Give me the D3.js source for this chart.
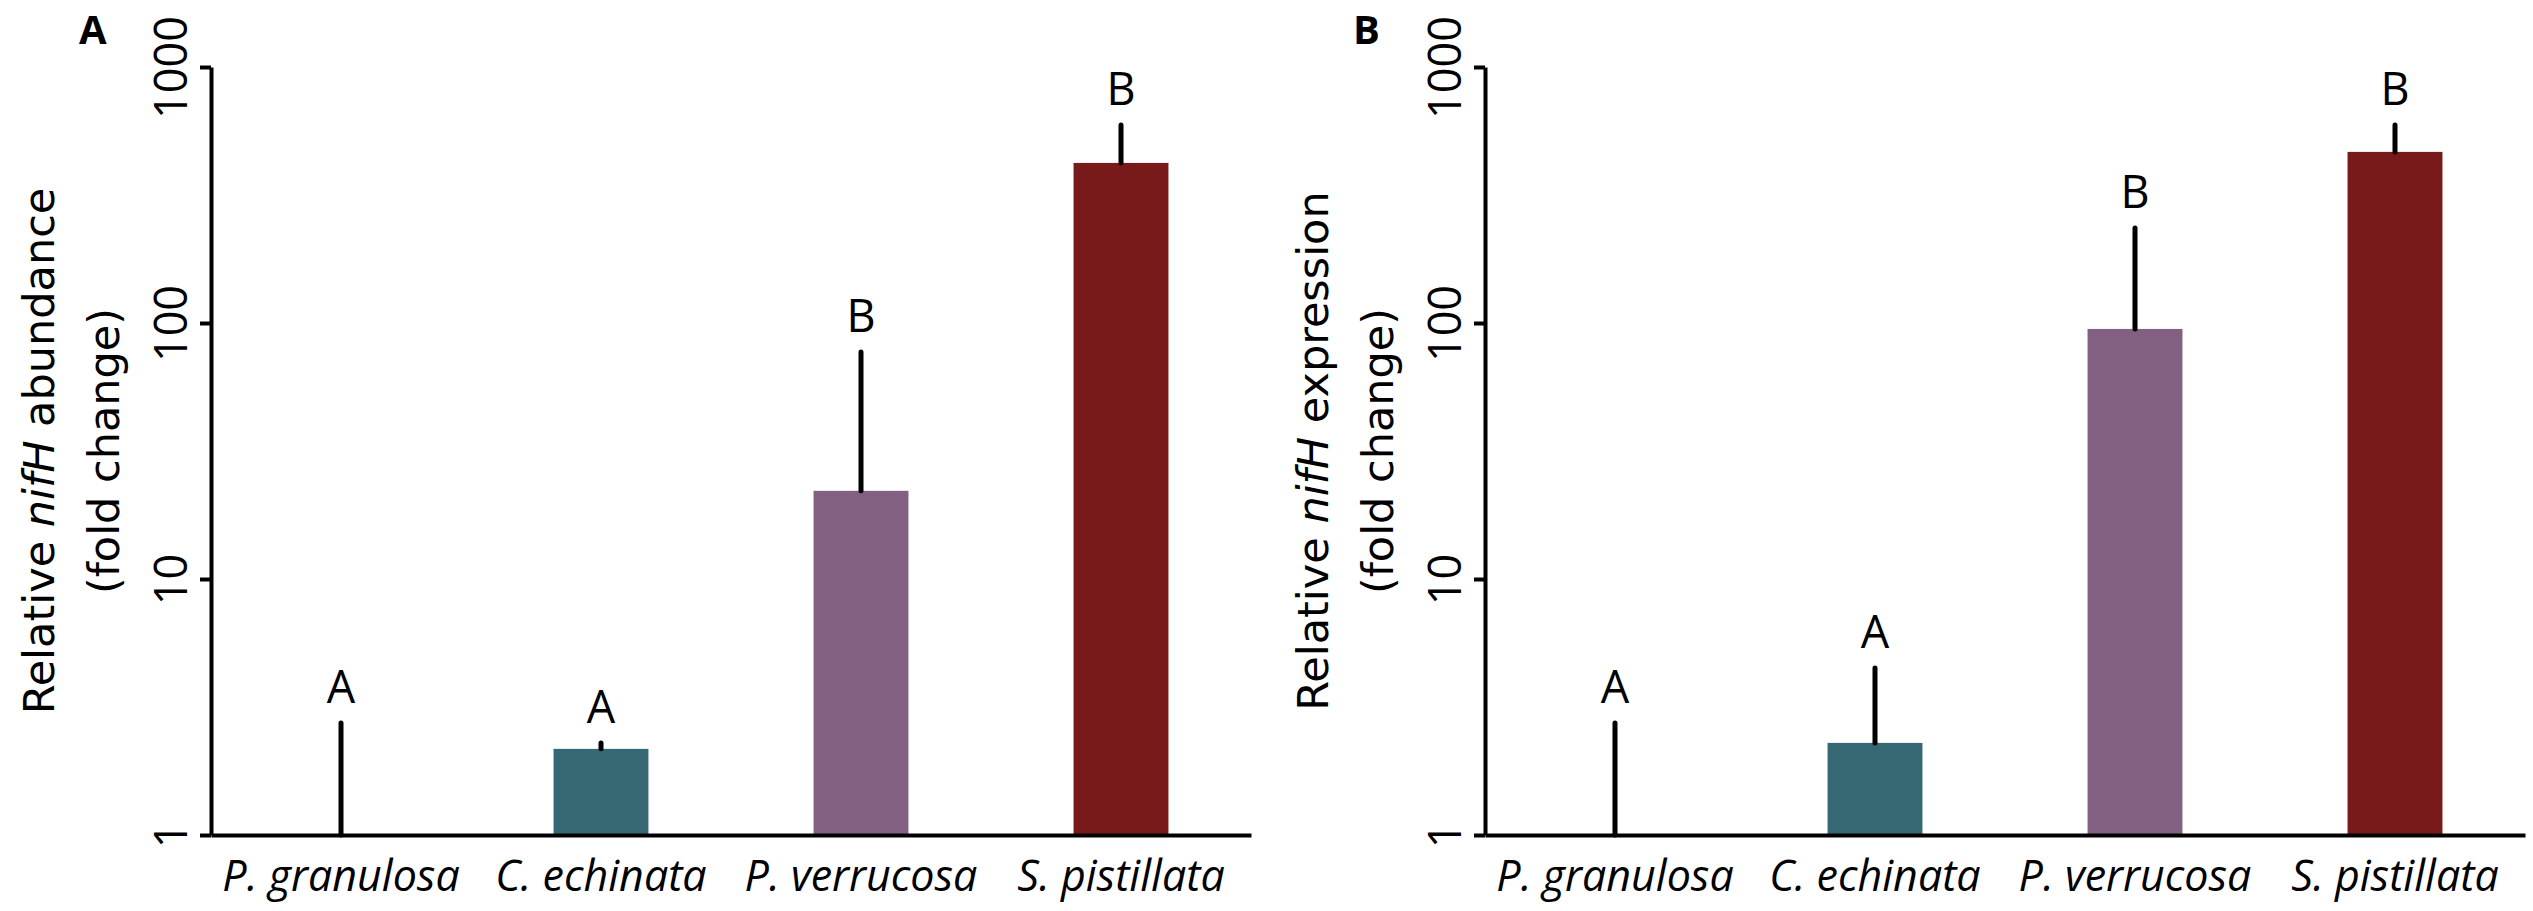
<!DOCTYPE html>
<html>
<head>
<meta charset="utf-8">
<script src="https://cdn.jsdelivr.net/npm/d3@7"></script>
<style>
  body { margin: 0; background: #fff; }
  svg { display: block; }
</style>
</head>
<body>
<svg id="chart" width="2533" height="911"></svg>
<script>
// data
const categories = ["P. granulosa", "C. echinata", "P. verrucosa", "S. pistillata"];
const barColors = ["#356872", "#356872", "#826082", "#791a1a"];
const yTicks = [1, 10, 100, 1000];

const abundanceMean = [1, 2.17, 22.1, 422];
const abundanceUpper = [2.74, 2.29, 77, 593];
const abundanceLetters = ["A", "A", "B", "B"];

const expressionMean = [1, 2.29, 94.8, 466];
const expressionUpper = [2.74, 4.49, 235, 593];
const expressionLetters = ["A", "A", "B", "B"];

const svg = d3.select("#chart");
const plotTop = 67, plotBottom = 835, plotW = 1040;

function drawPanel(opt) {
    const g = svg.append("g");
    const x = d3.scaleBand().domain(categories)
        .range([opt.left, opt.left + plotW])
        .paddingInner(0.635).paddingOuter(0.3175);
    const y = d3.scaleLog().domain([1, 1000]).range([plotBottom, plotTop]);

    const rows = categories.map((c, i) => ({
        name: c, mean: opt.mean[i], upper: opt.upper[i], letter: opt.letters[i], color: barColors[i]
    }));

    // bars
    g.selectAll("rect.bar").data(rows).enter().append("rect")
        .attr("class", "bar")
        .attr("x", d => x(d.name))
        .attr("y", d => y(d.mean))
        .attr("width", x.bandwidth())
        .attr("height", d => y(1) - y(d.mean))
        .attr("fill", d => d.color);

    // error bars (upper only)
    g.selectAll("line.err").data(rows).enter().append("line")
        .attr("class", "err")
        .attr("x1", d => x(d.name) + x.bandwidth() / 2)
        .attr("x2", d => x(d.name) + x.bandwidth() / 2)
        .attr("y1", d => y(d.mean))
        .attr("y2", d => y(d.upper))
        .attr("stroke", "#000").attr("stroke-width", 5).attr("stroke-linecap", "round");

    // significance letters
    g.selectAll("text.sig").data(rows).enter().append("text")
        .attr("class", "sig")
        .attr("x", d => x(d.name) + x.bandwidth() / 2)
        .attr("y", d => y(d.upper) - 20)
        .attr("text-anchor", "middle")
        .style("font-family", "'Open Sans'").style("font-size", "45px")
        .text(d => d.letter);

    // y axis
    const yAxis = g.append("g").attr("transform", `translate(${opt.left},0)`)
        .call(d3.axisLeft(y).tickValues(yTicks).tickFormat(d3.format("d"))
            .tickSize(11).tickSizeOuter(0));
    yAxis.select(".domain").attr("stroke-width", 4);
    yAxis.selectAll(".tick line").attr("stroke-width", 4);
    yAxis.selectAll(".tick text")
        .attr("x", null).attr("dy", null)
        .attr("transform", "translate(-24,0) rotate(-90)")
        .attr("text-anchor", "middle")
        .attr("fill", "#000")
        .style("font-family", "'Open Sans'").style("font-size", "45px");

    // x axis
    const xAxis = g.append("g").attr("transform", `translate(0,${plotBottom})`)
        .call(d3.axisBottom(x).tickSize(0).tickSizeOuter(0));
    xAxis.select(".domain").attr("stroke-width", 4);
    xAxis.selectAll(".tick text")
        .attr("y", 56).attr("dy", null)
        .attr("fill", "#000")
        .style("font-family", "'Open Sans'").style("font-size", "43px")
        .style("font-style", "italic");

    // y axis title, two lines
    const midY = (plotTop + plotBottom) / 2;
    const t1 = g.append("text")
        .attr("transform", `translate(${opt.left - 157},${midY}) rotate(-90)`)
        .attr("text-anchor", "middle")
        .style("font-family", "'DejaVu Sans'").style("font-size", "43px");
    t1.append("tspan").text("Relative ");
    t1.append("tspan").style("font-style", "italic").text("nifH");
    t1.append("tspan").text(" " + opt.measure);
    g.append("text")
        .attr("transform", `translate(${opt.left - 92},${midY}) rotate(-90)`)
        .attr("text-anchor", "middle")
        .style("font-family", "'DejaVu Sans'").style("font-size", "43px")
        .text("(fold change)");

    // panel letter
    g.append("text")
        .attr("x", opt.left - 132).attr("y", 44)
        .style("font-family", "'Open Sans'").style("font-size", "40px").style("font-weight", "bold")
        .text(opt.tag);
}

drawPanel({ left: 211, mean: abundanceMean, upper: abundanceUpper, letters: abundanceLetters, measure: "abundance", tag: "A" });
drawPanel({ left: 1485, mean: expressionMean, upper: expressionUpper, letters: expressionLetters, measure: "expression", tag: "B" });
</script>
</body>
</html>
